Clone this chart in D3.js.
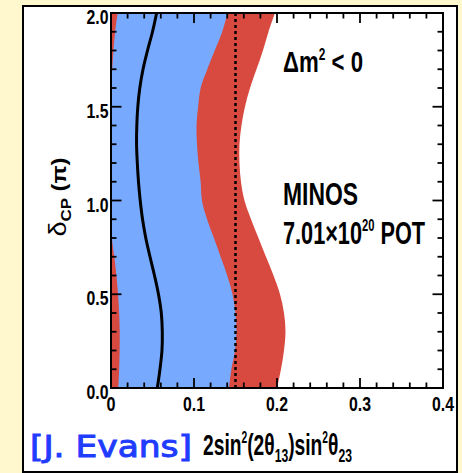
<!DOCTYPE html>
<html>
<head>
<meta charset="utf-8">
<script src="https://cdn.jsdelivr.net/npm/d3@7"></script>
<style>
  html, body { margin: 0; padding: 0; background: #fff8cf; }
  svg { display: block; }
  .lab { font-family: "Liberation Sans Narrow", "Arial Narrow", "Liberation Sans", Arial, sans-serif; font-weight: bold; fill: #000; }
</style>
</head>
<body>
<div id="chart"></div>
<script>
// delta_CP grid (units of pi) at which the contours are sampled
const deltaCP = [0.0, 0.1, 0.2, 0.3, 0.4, 0.5, 0.6, 0.7, 0.8, 0.9, 1.0,
                 1.1, 1.2, 1.3, 1.4, 1.5, 1.6, 1.7, 1.8, 1.9, 2.0];

// 68% CL band: lower and upper edge in 2sin^2(2th13)sin^2(th23)
const band68Lo = [0.0088, 0.0098, 0.0104, 0.0105, 0.0098, 0.0085, 0.0065, 0.0040, 0.0010, 0.0, 0.0,
                  0.0, 0.0, 0.0, 0.0, 0.0, 0.0, 0.0015, 0.0030, 0.0050, 0.0080];
const band68Hi = [0.1422, 0.1450, 0.1494, 0.1512, 0.1500, 0.1464, 0.1400, 0.1320, 0.1240, 0.1157, 0.1096,
                  0.1080, 0.1054, 0.1036, 0.1030, 0.1050, 0.1080, 0.1160, 0.1250, 0.1340, 0.1406];
// 90% CL upper edge (band starts at zero)
const band90Hi = [0.2000, 0.2048, 0.2084, 0.2102, 0.2084, 0.2036, 0.1958, 0.1867, 0.1777, 0.1687, 0.1608,
                  0.1566, 0.1548, 0.1548, 0.1572, 0.1614, 0.1675, 0.1753, 0.1831, 0.1898, 0.1976];
// best fit
const bestFit  = [0.0558, 0.0590, 0.0614, 0.0618, 0.0606, 0.0572, 0.0524, 0.0470, 0.0419, 0.0380, 0.0352,
                  0.0331, 0.0317, 0.0308, 0.0311, 0.0323, 0.0347, 0.0386, 0.0440, 0.0500, 0.0550];
// CHOOZ limit
const choozLimit = 0.15;

const xMajor = [0, 0.1, 0.2, 0.3, 0.4];
const xTickLabels = ["0", "0.1", "0.2", "0.3", "0.4"];
const yMajor = [0, 0.5, 1.0, 1.5, 2.0];
const yTickLabels = ["0.0", "0.5", "1.0", "1.5", "2.0"];

const W = 462, H = 473;
const svg = d3.select("#chart").append("svg").attr("width", W).attr("height", H);

// white panel
svg.append("rect").attr("x", 23).attr("y", 6).attr("width", 434).attr("height", 466)
  .attr("fill", "#fff").attr("stroke", "#000").attr("stroke-width", 2);

const x = d3.scaleLinear().domain([0, 0.4]).range([111, 443]);
const y = d3.scaleLinear().domain([0, 2]).range([388, 13]);

const rows = deltaCP.map((d, i) => ({ d, lo: band68Lo[i], hi: band68Hi[i], hi90: band90Hi[i], bf: bestFit[i] }));
const curve = d3.curveCatmullRom.alpha(0.5);

const plot = svg.append("g");
plot.append("path").datum(rows)
  .attr("fill", "#d84a40")
  .attr("d", d3.area().curve(curve).y(r => y(r.d)).x0(x(0)).x1(r => x(r.hi90)));
plot.append("path").datum(rows)
  .attr("fill", "#77aaff")
  .attr("d", d3.area().curve(curve).y(r => y(r.d)).x0(r => x(r.lo)).x1(r => x(r.hi)));
plot.append("path").datum(rows)
  .attr("fill", "none").attr("stroke", "#000").attr("stroke-width", 3)
  .attr("d", d3.line().curve(curve).y(r => y(r.d)).x(r => x(r.bf)));
plot.append("line")
  .attr("x1", x(choozLimit)).attr("x2", x(choozLimit)).attr("y1", y(2)).attr("y2", y(0))
  .attr("stroke", "#000").attr("stroke-width", 2.5).attr("stroke-dasharray", "3,3");

// frame with ticks on all four sides
const xMinor = d3.range(0, 0.4001, 0.02);
const yMinor = d3.range(0, 2.0001, 0.1);
const isMajor = (v, step) => Math.abs(v / step - Math.round(v / step)) < 1e-6;
const ax = svg.append("g").attr("stroke", "#000").attr("stroke-width", 1.8);
xMinor.forEach(v => {
  const L = isMajor(v, 0.1) ? 10 : 5.5;
  ax.append("line").attr("x1", x(v)).attr("x2", x(v)).attr("y1", y(0)).attr("y2", y(0) - L);
  ax.append("line").attr("x1", x(v)).attr("x2", x(v)).attr("y1", y(2)).attr("y2", y(2) + L);
});
yMinor.forEach(v => {
  const L = isMajor(v, 0.5) ? 10.5 : 5.5;
  ax.append("line").attr("y1", y(v)).attr("y2", y(v)).attr("x1", x(0)).attr("x2", x(0) + L);
  ax.append("line").attr("y1", y(v)).attr("y2", y(v)).attr("x1", x(0.4)).attr("x2", x(0.4) - L);
});
svg.append("rect").attr("x", x(0)).attr("y", y(2)).attr("width", x(0.4) - x(0)).attr("height", y(0) - y(2))
  .attr("fill", "none").attr("stroke", "#000").attr("stroke-width", 2);

// tick labels (condensed)
const labW = s => s.length === 1 ? 9 : 22;
svg.append("g").selectAll("text").data(xMajor).join("text")
  .attr("class", "lab").attr("font-size", 21).attr("text-anchor", "middle")
  .attr("textLength", (d, i) => labW(xTickLabels[i])).attr("lengthAdjust", "spacingAndGlyphs")
  .attr("x", d => x(d)).attr("y", 411).text((d, i) => xTickLabels[i]);
svg.append("g").selectAll("text").data(yMajor).join("text")
  .attr("class", "lab").attr("font-size", 21).attr("text-anchor", "end")
  .attr("textLength", (d, i) => labW(yTickLabels[i])).attr("lengthAdjust", "spacingAndGlyphs")
  .attr("x", 108.5).attr("y", d => y(d) + 11).text((d, i) => yTickLabels[i]);

// y axis title
const yt = svg.append("text").attr("class", "lab").attr("font-size", 21)
  .attr("transform", "translate(66,197) rotate(-90)").attr("text-anchor", "middle")
  .attr("textLength", 79).attr("lengthAdjust", "spacingAndGlyphs");
yt.append("tspan").attr("font-weight", "normal").attr("font-size", 24).text("δ");
yt.append("tspan").attr("font-size", 15).attr("dy", 5).text("CP");
yt.append("tspan").attr("dy", -5).text(" (π)");

// x axis title
const xt = svg.append("text").attr("class", "lab").attr("font-size", 30)
  .attr("x", 203).attr("y", 455).attr("textLength", 149).attr("lengthAdjust", "spacingAndGlyphs");
xt.append("tspan").text("2sin");
xt.append("tspan").attr("font-size", 16).attr("dy", -12).text("2");
xt.append("tspan").attr("dy", 12).text("(2θ");
xt.append("tspan").attr("font-size", 19).attr("dy", 7).text("13");
xt.append("tspan").attr("dy", -7).text(")sin");
xt.append("tspan").attr("font-size", 16).attr("dy", -12).text("2");
xt.append("tspan").attr("dy", 12).text("θ");
xt.append("tspan").attr("font-size", 19).attr("dy", 7).text("23");

// author tag
svg.append("text").attr("x", 30).attr("y", 457)
  .attr("font-family", "'Comic Sans MS', 'DejaVu Sans', sans-serif").attr("font-size", 30)
  .attr("fill", "#1f3cff").attr("stroke", "#1f3cff").attr("stroke-width", 1)
  .attr("textLength", 162).attr("lengthAdjust", "spacingAndGlyphs")
  .text("[J. Evans]");

// annotations
const t1 = svg.append("text").attr("class", "lab").attr("font-size", 30)
  .attr("x", 283).attr("y", 72).attr("textLength", 80).attr("lengthAdjust", "spacingAndGlyphs");
t1.append("tspan").text("Δm");
t1.append("tspan").attr("font-size", 16).attr("dy", -12).text("2");
t1.append("tspan").attr("dy", 12).text(" < 0");

svg.append("text").attr("class", "lab").attr("font-size", 31)
  .attr("x", 283).attr("y", 205).attr("textLength", 75).attr("lengthAdjust", "spacingAndGlyphs")
  .text("MINOS");
const t3 = svg.append("text").attr("class", "lab").attr("font-size", 31)
  .attr("x", 283).attr("y", 244).attr("textLength", 142).attr("lengthAdjust", "spacingAndGlyphs");
t3.append("tspan").text("7.01×10");
t3.append("tspan").attr("font-size", 16).attr("dy", -13).text("20");
t3.append("tspan").attr("dy", 13).text(" POT");
</script>
</body>
</html>
